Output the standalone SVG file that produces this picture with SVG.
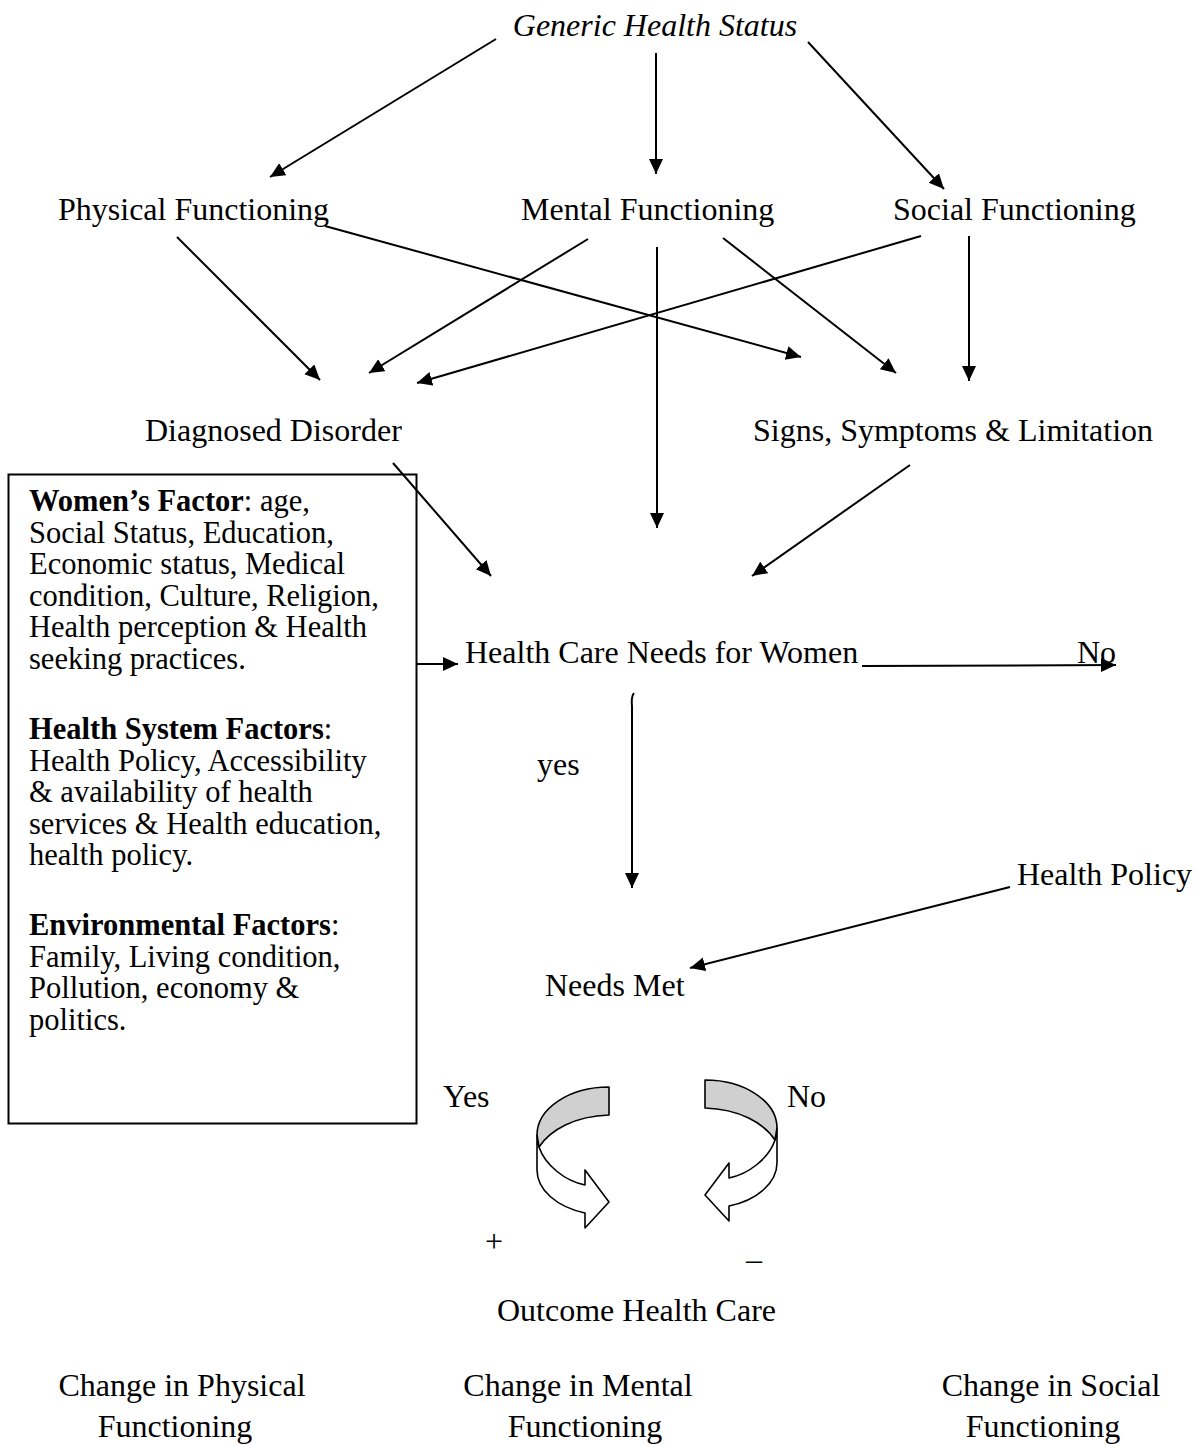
<svg xmlns="http://www.w3.org/2000/svg" width="1202" height="1446" viewBox="0 0 1202 1446">
<style>
text{font-family:"Liberation Serif","Times New Roman",serif;fill:#000}
.lbl{font-size:32px}
.box{font-size:30.5px}
.b{font-weight:bold}
.ln{stroke:#000;stroke-width:2;fill:none}
.cv{stroke:#000;stroke-width:1.6;stroke-linejoin:round}
</style>
<defs>
<marker id="ah" markerUnits="userSpaceOnUse" markerWidth="16" markerHeight="16" refX="15" refY="7" orient="auto">
<path d="M0,0 L15,7 L0,14 Z" fill="#000"/>
</marker>
</defs>
<rect width="1202" height="1446" fill="#fff"/>
<g id="connectors">
<line class="ln" x1="496" y1="39" x2="270" y2="177" marker-end="url(#ah)"/>
<line class="ln" x1="656" y1="53" x2="656" y2="174" marker-end="url(#ah)"/>
<line class="ln" x1="808" y1="42" x2="944" y2="189" marker-end="url(#ah)"/>
<line class="ln" x1="177" y1="237" x2="320" y2="380" marker-end="url(#ah)"/>
<line class="ln" x1="325" y1="226" x2="801" y2="357" marker-end="url(#ah)"/>
<line class="ln" x1="588" y1="239" x2="369" y2="373" marker-end="url(#ah)"/>
<line class="ln" x1="921" y1="236" x2="417" y2="383" marker-end="url(#ah)"/>
<line class="ln" x1="657" y1="247" x2="657" y2="528" marker-end="url(#ah)"/>
<line class="ln" x1="723" y1="238" x2="896" y2="373" marker-end="url(#ah)"/>
<line class="ln" x1="969" y1="236" x2="969" y2="381" marker-end="url(#ah)"/>
<line class="ln" x1="393" y1="463" x2="491" y2="576" marker-end="url(#ah)"/>
<line class="ln" x1="910" y1="465" x2="752" y2="576" marker-end="url(#ah)"/>
<line class="ln" x1="416" y1="664" x2="458" y2="664" marker-end="url(#ah)"/>
<line class="ln" x1="862" y1="666" x2="1116" y2="665" marker-end="url(#ah)"/>
<path class="ln" d="M634,693 Q631,697 632,706 L632,888" marker-end="url(#ah)"/>
<line class="ln" x1="1010" y1="887" x2="690" y2="968" marker-end="url(#ah)"/>
</g>
<g id="generic"><text class="lbl" x="655" y="36" text-anchor="middle" font-style="italic">Generic Health Status</text></g>
<g id="physical"><text class="lbl" x="58" y="220">Physical Functioning</text></g>
<g id="mental"><text class="lbl" x="521" y="220">Mental Functioning</text></g>
<g id="social"><text class="lbl" x="893" y="220">Social Functioning</text></g>
<g id="diagnosed"><text class="lbl" x="145" y="441">Diagnosed Disorder</text></g>
<g id="signs"><text class="lbl" x="753" y="441">Signs, Symptoms &amp; Limitation</text></g>
<g id="factors">
<rect x="8.5" y="474.5" width="408" height="649" fill="none" stroke="#000" stroke-width="2"/>
<text class="box" x="29">
<tspan x="29" y="511"><tspan class="b">Women’s Factor</tspan>: age,</tspan>
<tspan x="29" y="543">Social Status, Education,</tspan>
<tspan x="29" y="574">Economic status, Medical</tspan>
<tspan x="29" y="606">condition, Culture, Religion,</tspan>
<tspan x="29" y="637">Health perception &amp; Health</tspan>
<tspan x="29" y="669">seeking practices.</tspan>
<tspan x="29" y="739"><tspan class="b">Health System Factors</tspan>:</tspan>
<tspan x="29" y="771">Health Policy, Accessibility</tspan>
<tspan x="29" y="802">&amp; availability of health</tspan>
<tspan x="29" y="834">services &amp; Health education,</tspan>
<tspan x="29" y="865">health policy.</tspan>
<tspan x="29" y="935"><tspan class="b">Environmental Factors</tspan>:</tspan>
<tspan x="29" y="967">Family, Living condition,</tspan>
<tspan x="29" y="998">Pollution, economy &amp;</tspan>
<tspan x="29" y="1030">politics.</tspan>
</text>
</g>
<g id="needs"><text class="lbl" x="465" y="663">Health Care Needs for Women</text></g>
<g id="no1"><text class="lbl" x="1077" y="663">No</text></g>
<g id="yes1"><text class="lbl" x="537" y="775">yes</text></g>
<g id="policy"><text class="lbl" x="1017" y="885">Health Policy</text></g>
<g id="met"><text class="lbl" x="545" y="996">Needs Met</text></g>
<g id="yes2"><text class="lbl" x="443" y="1107">Yes</text></g>
<g id="no2"><text class="lbl" x="787" y="1107">No</text></g>
<g id="curve-yes">
<path class="cv" fill="#fff" d="M537,1135 L537,1170 C537,1190 557,1207 585,1213 L585,1228 L609,1202 L585,1170 L585,1185 C565,1181 545,1165 539,1147 Z"/>
<path class="cv" fill="#d0d0d0" d="M609,1087 A72,48 0 0 0 537,1135 L539,1147 C550,1130 575,1116 609,1115 Z"/>
</g>
<g id="curve-no" transform="translate(1314,-7) scale(-1,1)">
<path class="cv" fill="#fff" d="M537,1135 L537,1170 C537,1190 557,1207 585,1213 L585,1228 L609,1202 L585,1170 L585,1185 C565,1181 545,1165 539,1147 Z"/>
<path class="cv" fill="#d0d0d0" d="M609,1087 A72,48 0 0 0 537,1135 L539,1147 C550,1130 575,1116 609,1115 Z"/>
</g>
<g id="plus"><text class="lbl" x="485" y="1252">+</text></g>
<g id="minus"><text class="lbl" x="746" y="1270">–</text></g>
<g id="outcome"><text class="lbl" x="497" y="1321">Outcome Health Care</text></g>
<g id="chg-physical"><text class="lbl" text-anchor="middle"><tspan x="182" y="1396">Change in Physical</tspan><tspan x="175" y="1437">Functioning</tspan></text></g>
<g id="chg-mental"><text class="lbl" text-anchor="middle"><tspan x="578" y="1396">Change in Mental</tspan><tspan x="585" y="1437">Functioning</tspan></text></g>
<g id="chg-social"><text class="lbl" text-anchor="middle"><tspan x="1051" y="1396">Change in Social</tspan><tspan x="1043" y="1437">Functioning</tspan></text></g>
</svg>
